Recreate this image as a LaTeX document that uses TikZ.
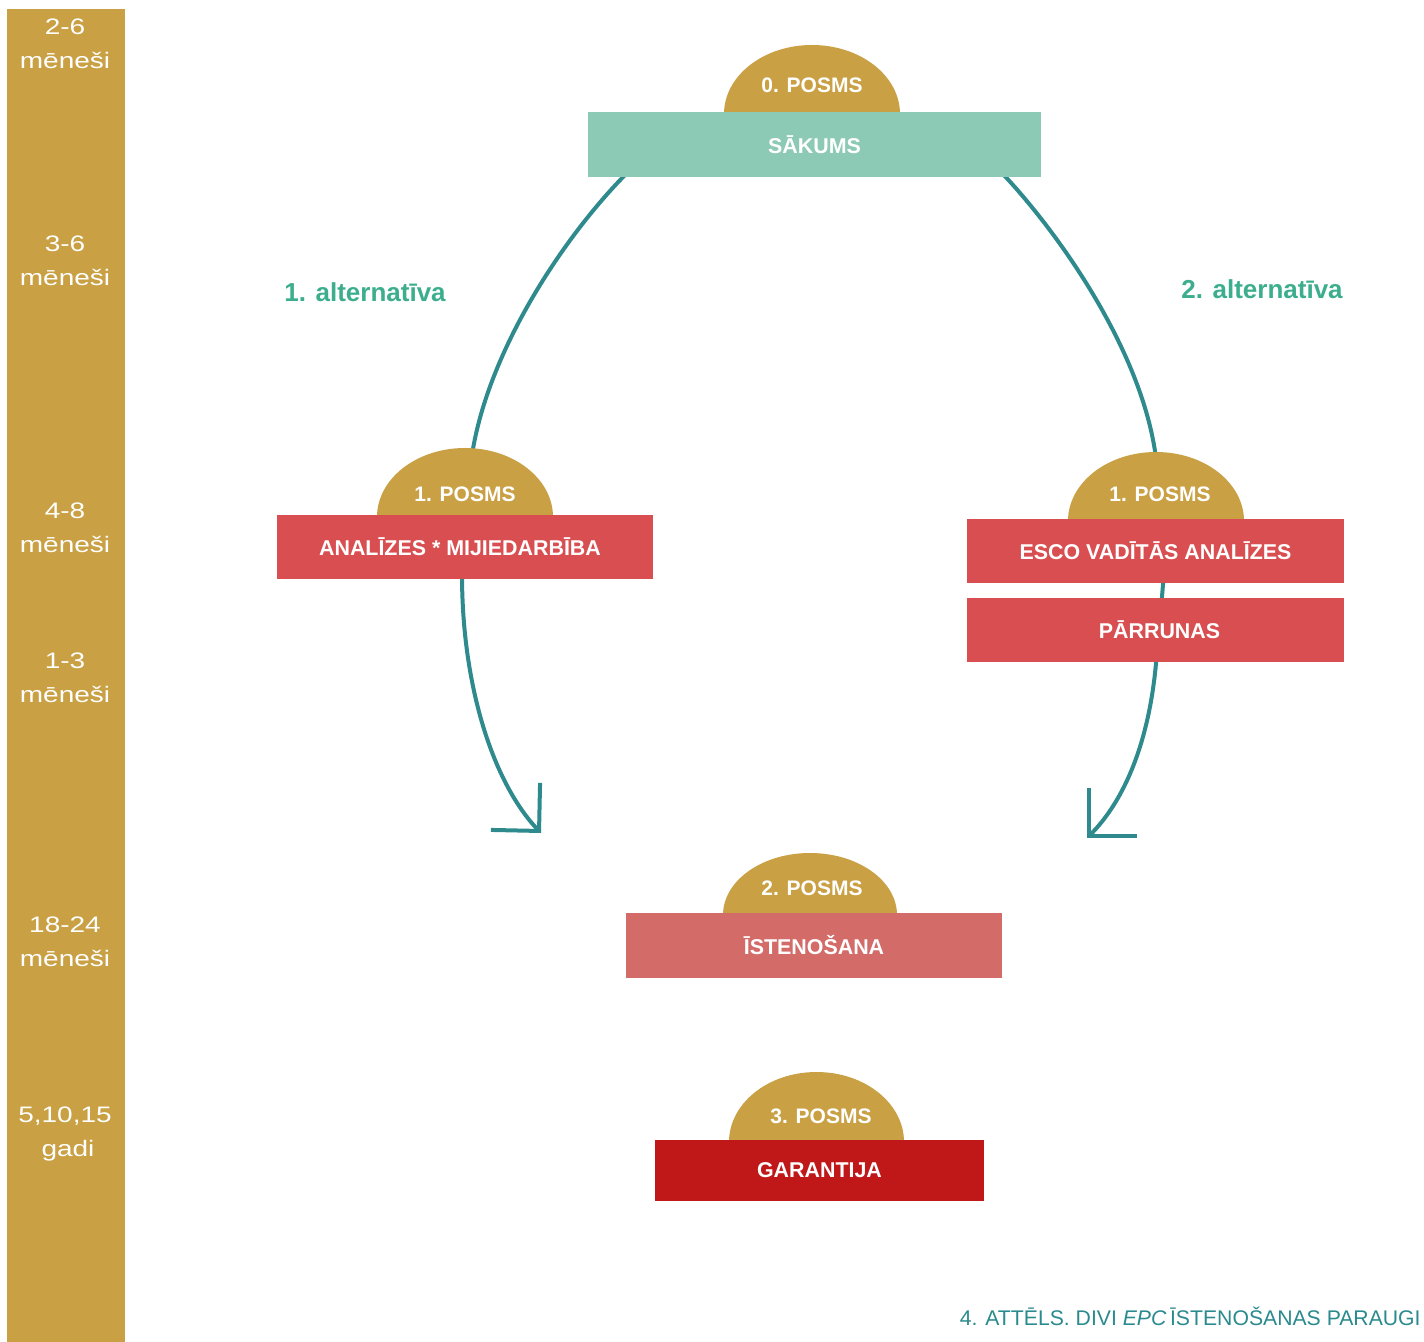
\documentclass[tikz,border=0pt]{standalone}
\usepackage{fontspec}
\usepackage{graphicx}
\setmainfont{Liberation Sans}
\usetikzlibrary{arrows.meta,calc}
\definecolor{gold}{HTML}{C9A043}
\definecolor{tealbox}{HTML}{8DCAB5}
\definecolor{redbox}{HTML}{D94F51}
\definecolor{lightred}{HTML}{D36B69}
\definecolor{darkred}{HTML}{C01719}
\definecolor{flowteal}{HTML}{2E8A8C}
\definecolor{altgreen}{HTML}{3CAE8D}
\definecolor{captteal}{HTML}{2A8A8E}
\pgfdeclarelayer{bg}
\pgfsetlayers{bg,main}
\newcommand\domeshape[4]{\fill[gold] (#1,#2) ++(-#3,0) arc[start angle=180,end angle=0,x radius={#3*0.5pt},y radius={#4*0.5pt}] -- cycle;}
\newcommand\sq[1]{\scalebox{1}[0.8]{#1}}
\tikzset{
  stagebox/.style={inner sep=0pt, text=white, font=\fontsize{10.7}{12}\selectfont\bfseries},
  posms/.style={text=white, inner sep=0pt, font=\fontsize{10.5}{12}\selectfont\bfseries},
  side/.style={text=white, inner sep=0pt, anchor=base, font=\fontsize{14}{16}\selectfont},
  alt/.style={text=altgreen, inner sep=0pt, font=\fontsize{13}{15}\selectfont\bfseries},
  flow/.style={draw=flowteal, line width=2pt},
  arr/.style={flow, -{Straight Barb[length=17pt,width=34pt]}},
}
\begin{document}
\begin{tikzpicture}[x=0.5pt,y=-0.5pt]
\useasboundingbox (0,0) rectangle (1424,1342);
% timeline bar
\fill[gold] (7,9) rectangle (125,1342);
\node[side] (s1a) at (65,35) {\sq{2-6}};
\node[side] (s1b) at (65,69) {\sq{mēneši}};
\node[side] (s2a) at (65,252) {\sq{3-6}};
\node[side] (s2b) at (65,286) {\sq{mēneši}};
\node[side] (s3a) at (65,518) {\sq{4-8}};
\node[side] (s3b) at (65,552) {\sq{mēneši}};
\node[side] (s4a) at (65,668) {\sq{1-3}};
\node[side] (s4b) at (65,702) {\sq{mēneši}};
\node[side] (s5a) at (65,932) {\sq{18-24}};
\node[side] (s5b) at (65,966) {\sq{mēneši}};
\node[side] (s6a) at (65,1122) {\sq{5,10,15}};
\node[side] (s6b) at (68,1156) {\sq{gadi}};
% domes
\domeshape{812}{114}{88}{69}
\domeshape{465}{517}{88}{69}
\domeshape{1156}{521}{88}{69}
\domeshape{810}{915}{87}{62}
\domeshape{816.5}{1142}{87.5}{70}
\node[posms] (p0) at (812,85) {0. POSMS};
\node[posms] (p1l) at (465,494) {1. POSMS};
\node[posms] (p1r) at (1160,494) {1. POSMS};
\node[posms] (p2) at (812,888) {2. POSMS};
\node[posms] (p3) at (821,1116) {3. POSMS};
% boxes
\node[stagebox, fill=tealbox, minimum width=226.5pt, minimum height=32.5pt] (sakums) at (814.5,144.5) {SĀKUMS};
\node[stagebox, fill=redbox, minimum width=188pt, minimum height=32pt] (analizes) at (465,547) {\hspace*{-5pt}ANALĪZES * MIJIEDARBĪBA};
\node[stagebox, fill=redbox, minimum width=188.5pt, minimum height=32pt] (esco) at (1155.5,551) {ESCO VADĪTĀS ANALĪZES};
\node[stagebox, fill=redbox, minimum width=188.5pt, minimum height=32pt] (parrunas) at (1155.5,630) {\hspace*{4pt}PĀRRUNAS};
\node[stagebox, fill=lightred, minimum width=188pt, minimum height=32.5pt] (istenosana) at (814,945.5) {ĪSTENOŠANA};
\node[stagebox, fill=darkred, minimum width=164.5pt, minimum height=30.5pt] (garantija) at (819.5,1170.5) {GARANTIJA};
% alternative labels
\node[alt] (alt1) at (365,292) {1. alternatīva};
\node[alt] (alt2) at (1262,289) {2. alternatīva};
% caption
\node[anchor=base east, inner sep=0pt, text=captteal, font=\fontsize{10.6}{12}\selectfont] (cap) at (1421,1325) {4. ATTĒLS. DIVI \textit{EPC}\,ĪSTENOŠANAS PARAUGI};
% connectors
\begin{pgfonlayer}{bg}
\coordinate (top1l) at (472,455);
\coordinate (top1r) at (1156,458);
\coordinate (tipl) at (541,833);
\coordinate (tipr) at (1087,838);
\draw[flow] ($(sakums.south west)+(40,-5)$) .. controls (565,235) and (488,350) .. (top1l);
\draw[flow] ($(sakums.south east)+(-40,-5)$) .. controls (1058,232) and (1142,350) .. (top1r);
\draw[arr] ($(analizes.south)+(-3,-5)$) .. controls (462,690) and (495,785) .. (tipl);
\draw[flow] ($(esco.south)+(8,-5)$) -- ($(parrunas.north)+(6,5)$);
\draw[arr] ($(parrunas.south)+(1,-5)$) .. controls (1150,740) and (1125,800) .. (tipr);
\end{pgfonlayer}
\end{tikzpicture}
\end{document}
